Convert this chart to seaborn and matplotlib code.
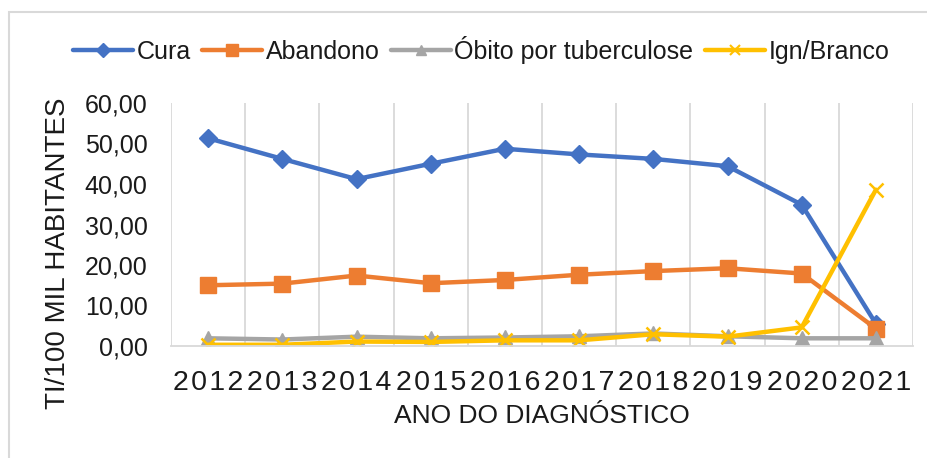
import numpy as np
import pandas as pd
import seaborn as sns
import matplotlib.pyplot as plt
from matplotlib.lines import Line2D
from matplotlib.patches import Rectangle

years = [2012, 2013, 2014, 2015, 2016, 2017, 2018, 2019, 2020, 2021]
cura = [51.3, 46.2, 41.2, 45.0, 48.7, 47.3, 46.2, 44.4, 34.9, 5.5]
abandono = [15.0, 15.4, 17.4, 15.5, 16.3, 17.6, 18.5, 19.2, 17.9, 4.3]
obito = [1.9, 1.6, 2.3, 1.9, 2.1, 2.4, 3.1, 2.4, 1.9, 1.9]
ign_branco = [0.3, 0.3, 1.1, 1.0, 1.4, 1.4, 2.9, 2.3, 4.6, 38.6]

series_names = ["Cura", "Abandono", "Óbito por tuberculose", "Ign/Branco"]
colors = ["#4472C4", "#ED7D31", "#A5A5A5", "#FFC000"]
markers = ["D", "s", "^", "x"]
marker_sizes = [9.5, 11.5, 10, 10]

sns.set_theme(style="white")
plt.rcParams['font.family'] = ['Liberation Sans', 'DejaVu Sans']
text_color = "#1a1a1a"

df = pd.DataFrame({
    "ano": years * 4,
    "valor": cura + abandono + obito + ign_branco,
    "serie": sum([[n] * len(years) for n in series_names], []),
})

fig = plt.figure(figsize=(9.28, 4.58), dpi=100)
ax = fig.add_axes([171 / 928, 1 - 346 / 458, 742 / 928, 243 / 458])

# outer chart frame (goes past the right and bottom edges)
fig.patches.append(Rectangle((9 / 928, -0.1), 1.2, 0.1 + 446 / 458, transform=fig.transFigure,
                             fill=False, edgecolor="#d9d9d9", linewidth=1.5))

for name, col, mk, ms in zip(series_names, colors, markers, marker_sizes):
    sub = df[df["serie"] == name]
    sns.lineplot(data=sub, x="ano", y="valor", color=col, linewidth=3.2, marker=mk,
                 markersize=ms, markeredgecolor=col, markeredgewidth=1.8 if mk == "x" else 1,
                 ax=ax, legend=False)

ax.set_xlim(2011.5, 2021.5)
ax.set_ylim(0, 60)
ax.set_yticks(np.arange(0, 61, 10))
ax.set_yticklabels([f"{v:.2f}".replace(".", ",") for v in np.arange(0, 61, 10)],
                   fontsize=18, color=text_color)
ax.set_xticks(years)
# spaced digits like the original (hair spaces)
ax.set_xticklabels(["\u200a".join(str(y)) for y in years], fontsize=20.5, color=text_color)
ax.set_xticks(np.arange(2011.5, 2022, 1), minor=True)
ax.tick_params(axis="both", which="major", length=0)
ax.tick_params(axis="x", pad=17)
ax.tick_params(axis="y", pad=17)
ax.tick_params(axis="x", which="minor", length=0)
ax.grid(False)
ax.grid(True, axis="x", which="minor", color="#d9d9d9", linewidth=1.3)

for side in ["top", "right"]:
    ax.spines[side].set_visible(False)
ax.spines["left"].set_visible(False)
ax.spines["bottom"].set_color("#d9d9d9")
ax.spines["bottom"].set_linewidth(1.3)

ax.set_xlabel("ANO DO DIAGNÓSTICO", fontsize=19, color=text_color, va="top")
ax.xaxis.set_label_coords(0.5, -0.24)
ax.set_ylabel("TI/100 MIL HABITANTES", fontsize=20, color=text_color)
ax.yaxis.set_label_coords(-0.135, 0.38)

handles = [Line2D([0], [0], color=c, linewidth=3.2, marker=m, markersize=s * 0.7,
                  markeredgecolor=c, markeredgewidth=1.5 if m == "x" else 1)
           for c, m, s in zip(colors, markers, marker_sizes)]
fig.legend(handles, series_names, loc="center", bbox_to_anchor=(481 / 928, 1 - 50 / 458),
           ncol=4, frameon=False, fontsize=18, handlelength=2.4, handletextpad=0.15,
           columnspacing=0.45, labelcolor=text_color)

fig.savefig("out.png", dpi=100, facecolor="white")
